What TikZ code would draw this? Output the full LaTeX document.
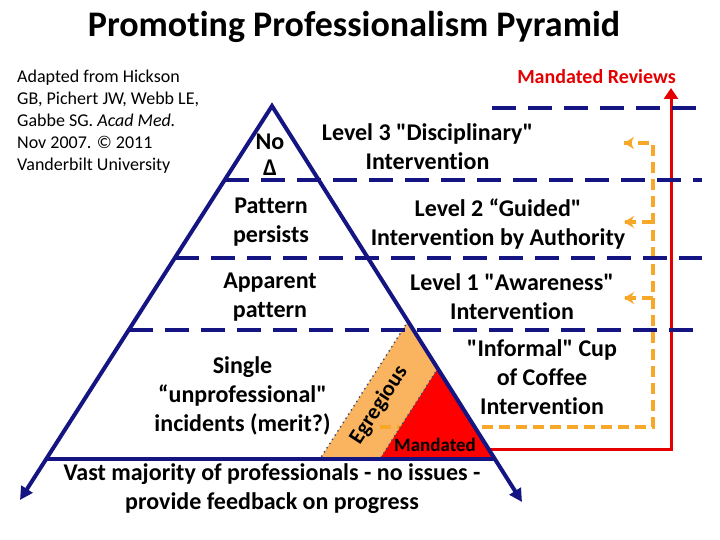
\documentclass[tikz,border=0pt]{standalone}
\usepackage{fontspec}
\setmainfont{Carlito}[Ligatures={NoCommon}]
\usetikzlibrary{arrows.meta,calc}
\definecolor{navy}{RGB}{20,20,130}
\definecolor{orfill}{RGB}{250,180,95}
\definecolor{orline}{RGB}{247,168,40}
\definecolor{redfill}{RGB}{255,0,0}
\definecolor{redline}{RGB}{228,0,0}
\definecolor{dotc}{RGB}{60,75,120}
\newcommand{\sq}{\textquotedbl}
\begin{document}
\begin{tikzpicture}[x=1pt,y=-1pt,
  lbl/.style={font=\fontsize{24}{29}\selectfont\bfseries, align=center, inner sep=0pt},
  credit/.style={font=\fontsize{18}{22}\selectfont, align=left, inner sep=0pt},
  titlestyle/.style={font=\fontsize{36}{42}\selectfont\bfseries, inner sep=0pt},
  pyr/.style={draw=navy, line width=4pt},
  lvl/.style={draw=navy, line width=4.5pt, dash pattern=on 24pt off 12pt},
  dotedge/.style={draw=dotc, line width=2pt, line cap=round, dash pattern=on 0pt off 5pt},
  orarrow/.style={draw=orline, line width=3.5pt, dash pattern=on 11pt off 6pt},
  orhead/.style={draw=orline, line width=3.5pt, -{Stealth[length=10pt,width=12pt]}},
  redarrow/.style={draw=redline, line width=3pt, -{Triangle[length=11pt,width=14pt]}},
]
\useasboundingbox (0,0) rectangle (720,540);
% key points
\coordinate (apex) at (272,106);
\coordinate (L) at (20,500);
\coordinate (R) at (522,502);
\coordinate (bl) at (46.2,459);
\coordinate (br) at (494.9,459);
% small pyramids
\coordinate (oa) at (408,321.4);
\coordinate (ob) at (320,459);
\coordinate (ra) at (437.8,368.6);
\coordinate (rb) at (380,459);
\fill[orfill] (oa) -- (ob) -- (br) -- cycle;
\draw[dotedge] (oa) -- (ob) -- (br) -- cycle;
% orange dashed return path
\coordinate (o0) at (380,427);
\coordinate (o1) at (653,427);
\coordinate (o2) at (653,143);
\coordinate (o3) at (653,222);
\coordinate (o4) at (653,298);
\coordinate (t2) at (624,143);
\coordinate (t3) at (624,222);
\coordinate (t4) at (624,298);
\draw[orarrow] (o0) -- (o1) -- (o2) -- (t2);
\draw[orhead] ($(t2)+(3,0)$) -- (t2);
\draw[orarrow] (o3) -- (t3);
\draw[orhead] ($(t3)+(3,0)$) -- (t3);
\draw[orarrow] (o4) -- (t4);
\draw[orhead] ($(t4)+(3,0)$) -- (t4);
% red triangle
\fill[redfill] (ra) -- (rb) -- (br) -- cycle;
\draw[dotedge] (ra) -- (rb) -- (br);
% red line
\coordinate (r0) at (488,449);
\coordinate (r1) at (671,449);
\coordinate (r2) at (671,88);
\draw[redarrow] (r0) -- (r1) -- (r2);
% dashed level lines
\coordinate (d4l) at (492,108);   \coordinate (d4r) at (697,108);
\coordinate (d3l) at (224.7,180); \coordinate (d3r) at (702,180);
\coordinate (d2l) at (174.8,258); \coordinate (d2r) at (702,258);
\coordinate (d1l) at (128.7,330); \coordinate (d1r) at (700,330);
\draw[lvl] (d4l) -- (d4r);
\draw[lvl] (d3l) -- (d3r);
\draw[lvl] (d2l) -- (d2r);
\draw[lvl] (d1l) -- (d1r);
% pyramid
\draw[pyr, {Triangle[length=13pt,width=13pt]}-{Triangle[length=13pt,width=13pt]}] (L) -- (apex) -- (R);
\draw[pyr] (bl) -- (br);
% texts
\node[titlestyle] (title) at (354,27) {Promoting Professionalism Pyramid};
\node[credit, anchor=west] (credit) at (17,122) {Adapted from Hickson\\GB, Pichert JW, Webb LE,\\Gabbe SG. \textit{Acad Med.}\\Nov 2007. © 2011\\Vanderbilt University};
\node[font=\fontsize{20}{24}\selectfont\bfseries, text=redline, anchor=east, inner sep=0pt] (mr) at (676,77) {Mandated Reviews};
\node[lbl, font=\fontsize{24}{26}\selectfont\bfseries] (nodelta) at (270,155) {No\\Δ};
\node[lbl] (lv3) at (427.5,147) {Level 3 \sq Disciplinary\sq\\Intervention};
\node[lbl] (pp) at (271,222) {Pattern\\persists};
\node[lbl] (lv2) at (498,224) {Level 2 “Guided\sq\\Intervention by Authority};
\node[lbl] (ap) at (270,297) {Apparent\\pattern};
\node[lbl] (lv1) at (512,297) {Level 1 \sq Awareness\sq\\Intervention};
\node[lbl] (cup) at (542,377) {\sq Informal\sq{} Cup\\of Coffee\\Intervention};
\node[lbl] (single) at (242.5,396) {Single\\“unprofessional\sq\\incidents (merit?)};
\node[font=\fontsize{22}{26}\selectfont\bfseries, rotate=57, inner sep=0pt] (egr) at (379,405) {Egregious};
\node[font=\fontsize{19}{23}\selectfont\bfseries, inner sep=0pt] (mand) at (435,445) {Mandated};
\node[lbl] (vast) at (272,489) {Vast majority of professionals - no issues -\\provide feedback on progress};
\end{tikzpicture}
\end{document}
